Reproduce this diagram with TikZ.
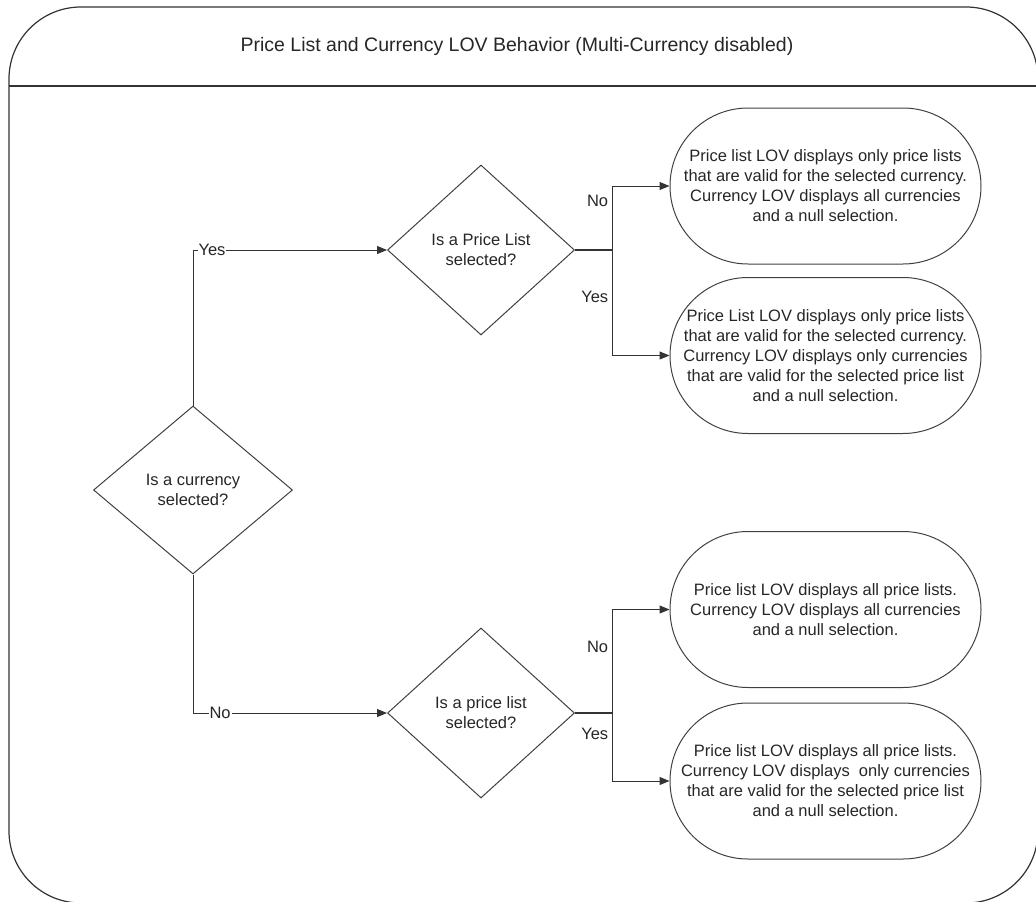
\documentclass[tikz,border=0pt]{standalone}
\usepackage{fontspec}
\setmainfont{Liberation Sans}
\usetikzlibrary{shapes.geometric,arrows.meta}

\begin{document}
\begin{tikzpicture}
[x=1pt,y=-1pt,line width=1pt,color=black!80,
 every node/.style={font=\fontsize{16.5}{20}\selectfont,text=black!85},
 ask/.style={diamond,draw=black!75,minimum width=187pt,minimum height=170pt,inner sep=0pt,align=center},
 answer/.style={rectangle,draw=black!75,rounded corners=78pt,minimum width=311pt,minimum height=156pt,inner sep=0pt,align=center},
 lab/.style={fill=white,inner sep=1pt},
 link/.style={-{Triangle[length=10pt,width=8pt]}}]
\useasboundingbox (0,0) rectangle (1036,902);
\clip (0,0) rectangle (1036,902);

% frame and title
\draw[line width=1.2pt,rounded corners=72pt] (9,7) rectangle (1038,903);
\draw[line width=1.2pt] (9,86) -- (1038,86);
\node[font=\fontsize{19.5}{23}\selectfont] (title) at (517,46) {Price List and Currency LOV Behavior (Multi-Currency disabled)};

% decisions
\node[ask,minimum width=199pt,minimum height=168pt] (q1) at (193,490) {Is a currency\\selected?};
\node[ask] (q2) at (481,250) {Is a Price List\\selected?};
\node[ask] (q3) at (481,713) {Is a price list\\selected?};

% outcomes
\node[answer] (a1) at (825.5,186) {Price list LOV displays only price lists\\that are valid for the selected currency.\\Currency LOV displays all currencies\\and a null selection.};
\node[answer] (a2) at (825.5,355.5) {Price List LOV displays only price lists\\that are valid for the selected currency.\\Currency LOV displays only currencies\\that are valid for the selected price list\\and a null selection.};
\node[answer] (a3) at (825.5,609.5) {Price list LOV displays all price lists.\\Currency LOV displays all currencies\\and a null selection.};
\node[answer] (a4) at (825.5,781) {Price list LOV displays all price lists.\\Currency LOV displays\ \ only currencies\\that are valid for the selected price list\\and a null selection.};

\coordinate (b1) at (612,250);
\coordinate (b2) at (612,713);

% connectors
\draw[link] (q1.north) |- node[pos=0.5,anchor=west,lab,xshift=4pt] {Yes} (q2.west);
\draw[link] (q1.south) |- node[pos=0.5,anchor=west,lab,xshift=15pt] {No} (q3.west);
\foreach \from/\to in {q2/b1,q3/b2}
\draw[line width=1.8pt] (\from.east) -- (\to);
\draw[link] (b1) |- node[pos=0.38,anchor=east] {No} (a1.west);
\draw[link] (b1) |- node[pos=0.22,anchor=east] {Yes} (a2.west);
\draw[link] (b2) |- node[pos=0.32,anchor=east] {No} (a3.west);
\draw[link] (b2) |- node[pos=0.15,anchor=east] {Yes} (a4.west);

\end{tikzpicture}
\end{document}
